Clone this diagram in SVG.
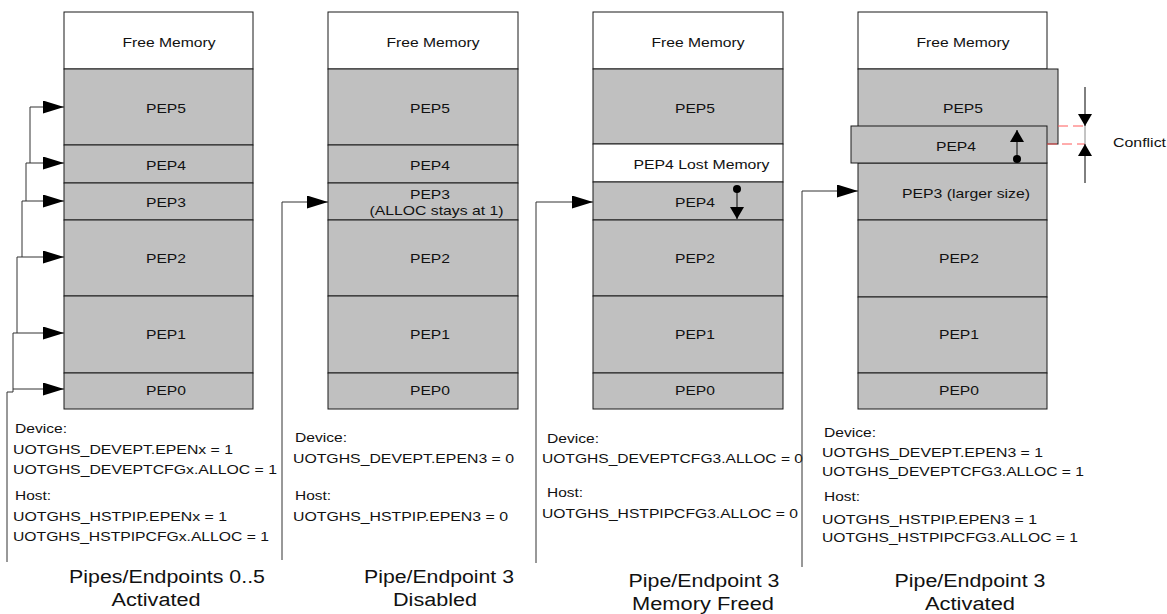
<svg xmlns="http://www.w3.org/2000/svg" width="1167" height="614" viewBox="0 0 1167 614">
<style>
.bg{fill:#ffffff}
.box{fill:#c0c0c0;stroke:#1a1a1a;stroke-width:1}
.free{fill:#ffffff;stroke:#1a1a1a;stroke-width:1}
.lbl{font-family:"Liberation Sans",Arial,sans-serif;font-size:13.5px;fill:#111;text-anchor:middle}
.txt{font-family:"Liberation Sans",Arial,sans-serif;font-size:13.5px;fill:#111}
.title{font-family:"Liberation Sans",Arial,sans-serif;font-size:18px;fill:#111;text-anchor:middle}
.conn{fill:none;stroke:#333;stroke-width:1}
.dash{fill:none;stroke:#ff5a5a;stroke-width:1;stroke-dasharray:10 5}
</style>
<defs>
<marker id="ah" markerUnits="userSpaceOnUse" markerWidth="21" markerHeight="13" refX="21" refY="6.5" orient="auto">
<path d="M0,0 L21,6.5 L0,13 z" fill="#000"/>
</marker>
<marker id="sh" markerUnits="userSpaceOnUse" markerWidth="12" markerHeight="14" refX="12" refY="7" orient="auto">
<path d="M0,0 L12,7 L0,14 z" fill="#000"/>
</marker>
</defs>
<rect class="bg" x="0" y="0" width="1167" height="614"/>

<g id="col1">
<rect class="free" x="64" y="12" width="189" height="57"/>
<rect class="box" x="64" y="69" width="189" height="76"/>
<rect class="box" x="64" y="145" width="189" height="38"/>
<rect class="box" x="64" y="183" width="189" height="37"/>
<rect class="box" x="64" y="220" width="189" height="76"/>
<rect class="box" x="64" y="296" width="189" height="77"/>
<rect class="box" x="64" y="373" width="189" height="36"/>
<text class="lbl" x="169" y="47" textLength="93" lengthAdjust="spacingAndGlyphs">Free Memory</text>
<text class="lbl" x="166" y="113" textLength="40" lengthAdjust="spacingAndGlyphs">PEP5</text>
<text class="lbl" x="166" y="169.5" textLength="40" lengthAdjust="spacingAndGlyphs">PEP4</text>
<text class="lbl" x="166" y="207" textLength="40" lengthAdjust="spacingAndGlyphs">PEP3</text>
<text class="lbl" x="166" y="263" textLength="40" lengthAdjust="spacingAndGlyphs">PEP2</text>
<text class="lbl" x="166" y="339" textLength="40" lengthAdjust="spacingAndGlyphs">PEP1</text>
<text class="lbl" x="166" y="395" textLength="40" lengthAdjust="spacingAndGlyphs">PEP0</text>
<text class="txt" x="15" y="433" textLength="52" lengthAdjust="spacingAndGlyphs">Device:</text>
<text class="txt" x="13" y="454" textLength="220" lengthAdjust="spacingAndGlyphs">UOTGHS_DEVEPT.EPENx = 1</text>
<text class="txt" x="13" y="474" textLength="264" lengthAdjust="spacingAndGlyphs">UOTGHS_DEVEPTCFGx.ALLOC = 1</text>
<text class="txt" x="15" y="500" textLength="36" lengthAdjust="spacingAndGlyphs">Host:</text>
<text class="txt" x="13" y="521" textLength="214" lengthAdjust="spacingAndGlyphs">UOTGHS_HSTPIP.EPENx = 1</text>
<text class="txt" x="13" y="541" textLength="256" lengthAdjust="spacingAndGlyphs">UOTGHS_HSTPIPCFGx.ALLOC = 1</text>
<text class="title" x="167" y="583" textLength="196" lengthAdjust="spacingAndGlyphs">Pipes/Endpoints 0..5</text>
<text class="title" x="156" y="606" textLength="89" lengthAdjust="spacingAndGlyphs">Activated</text>
</g>

<g id="col2">
<rect class="free" x="328" y="12" width="190" height="57"/>
<rect class="box" x="328" y="69" width="190" height="76"/>
<rect class="box" x="328" y="145" width="190" height="38"/>
<rect class="box" x="328" y="183" width="190" height="37"/>
<rect class="box" x="328" y="220" width="190" height="76"/>
<rect class="box" x="328" y="296" width="190" height="77"/>
<rect class="box" x="328" y="373" width="190" height="36"/>
<text class="lbl" x="433" y="47" textLength="93" lengthAdjust="spacingAndGlyphs">Free Memory</text>
<text class="lbl" x="430" y="113" textLength="40" lengthAdjust="spacingAndGlyphs">PEP5</text>
<text class="lbl" x="430" y="169.5" textLength="40" lengthAdjust="spacingAndGlyphs">PEP4</text>
<text class="lbl" x="430" y="199" textLength="40" lengthAdjust="spacingAndGlyphs">PEP3</text>
<text class="lbl" x="436.5" y="215" textLength="134" lengthAdjust="spacingAndGlyphs">(ALLOC stays at 1)</text>
<text class="lbl" x="430" y="263" textLength="40" lengthAdjust="spacingAndGlyphs">PEP2</text>
<text class="lbl" x="430" y="339" textLength="40" lengthAdjust="spacingAndGlyphs">PEP1</text>
<text class="lbl" x="430" y="395" textLength="40" lengthAdjust="spacingAndGlyphs">PEP0</text>
<text class="txt" x="295" y="442" textLength="52" lengthAdjust="spacingAndGlyphs">Device:</text>
<text class="txt" x="293" y="463" textLength="221" lengthAdjust="spacingAndGlyphs">UOTGHS_DEVEPT.EPEN3 = 0</text>
<text class="txt" x="295" y="500" textLength="36" lengthAdjust="spacingAndGlyphs">Host:</text>
<text class="txt" x="293" y="521" textLength="215" lengthAdjust="spacingAndGlyphs">UOTGHS_HSTPIP.EPEN3 = 0</text>
<text class="title" x="439" y="583" textLength="150" lengthAdjust="spacingAndGlyphs">Pipe/Endpoint 3</text>
<text class="title" x="435" y="606" textLength="84" lengthAdjust="spacingAndGlyphs">Disabled</text>
</g>

<g id="col3">
<rect class="free" x="593" y="12" width="190" height="57"/>
<rect class="box" x="593" y="69" width="190" height="75"/>
<rect class="free" x="593" y="144" width="190" height="38"/>
<rect class="box" x="593" y="182" width="190" height="38"/>
<rect class="box" x="593" y="220" width="190" height="76"/>
<rect class="box" x="593" y="296" width="190" height="77"/>
<rect class="box" x="593" y="373" width="190" height="36"/>
<text class="lbl" x="698" y="47" textLength="93" lengthAdjust="spacingAndGlyphs">Free Memory</text>
<text class="lbl" x="695" y="113" textLength="40" lengthAdjust="spacingAndGlyphs">PEP5</text>
<text class="lbl" x="701.5" y="169" textLength="136" lengthAdjust="spacingAndGlyphs">PEP4 Lost Memory</text>
<text class="lbl" x="695" y="207" textLength="40" lengthAdjust="spacingAndGlyphs">PEP4</text>
<text class="lbl" x="695" y="263" textLength="40" lengthAdjust="spacingAndGlyphs">PEP2</text>
<text class="lbl" x="695" y="339" textLength="40" lengthAdjust="spacingAndGlyphs">PEP1</text>
<text class="lbl" x="695" y="395" textLength="40" lengthAdjust="spacingAndGlyphs">PEP0</text>
<circle cx="737" cy="189" r="4" fill="#000"/>
<line x1="737" y1="189" x2="737" y2="219" stroke="#000" stroke-width="1" marker-end="url(#sh)"/>
<text class="txt" x="547" y="443" textLength="52" lengthAdjust="spacingAndGlyphs">Device:</text>
<text class="txt" x="542" y="463" textLength="261" lengthAdjust="spacingAndGlyphs">UOTGHS_DEVEPTCFG3.ALLOC = 0</text>
<text class="txt" x="547" y="497" textLength="36" lengthAdjust="spacingAndGlyphs">Host:</text>
<text class="txt" x="542" y="518" textLength="256" lengthAdjust="spacingAndGlyphs">UOTGHS_HSTPIPCFG3.ALLOC = 0</text>
<text class="title" x="704" y="587" textLength="151" lengthAdjust="spacingAndGlyphs">Pipe/Endpoint 3</text>
<text class="title" x="703" y="610" textLength="142" lengthAdjust="spacingAndGlyphs">Memory Freed</text>
</g>

<g id="col4">
<rect class="free" x="858" y="12" width="189" height="57"/>
<rect class="box" x="858" y="69" width="200" height="75"/>
<rect class="box" x="858" y="163" width="189" height="57"/>
<rect class="box" x="858" y="220" width="189" height="77"/>
<rect class="box" x="858" y="297" width="189" height="76"/>
<rect class="box" x="858" y="373" width="189" height="36"/>
<rect class="box" x="851" y="126" width="196" height="37"/>
<text class="lbl" x="963" y="47" textLength="93" lengthAdjust="spacingAndGlyphs">Free Memory</text>
<text class="lbl" x="963" y="113" textLength="40" lengthAdjust="spacingAndGlyphs">PEP5</text>
<text class="lbl" x="956" y="151" textLength="40" lengthAdjust="spacingAndGlyphs">PEP4</text>
<text class="lbl" x="966" y="198" textLength="128" lengthAdjust="spacingAndGlyphs">PEP3 (larger size)</text>
<text class="lbl" x="959" y="263" textLength="40" lengthAdjust="spacingAndGlyphs">PEP2</text>
<text class="lbl" x="959" y="339" textLength="40" lengthAdjust="spacingAndGlyphs">PEP1</text>
<text class="lbl" x="959" y="395" textLength="40" lengthAdjust="spacingAndGlyphs">PEP0</text>
<circle cx="1017" cy="159" r="4" fill="#000"/>
<line x1="1017" y1="159" x2="1017" y2="130" stroke="#000" stroke-width="1" marker-end="url(#sh)"/>
<text class="txt" x="824" y="437" textLength="52" lengthAdjust="spacingAndGlyphs">Device:</text>
<text class="txt" x="822" y="457" textLength="221" lengthAdjust="spacingAndGlyphs">UOTGHS_DEVEPT.EPEN3 = 1</text>
<text class="txt" x="822" y="476" textLength="262" lengthAdjust="spacingAndGlyphs">UOTGHS_DEVEPTCFG3.ALLOC = 1</text>
<text class="txt" x="824" y="501" textLength="36" lengthAdjust="spacingAndGlyphs">Host:</text>
<text class="txt" x="822" y="524" textLength="215" lengthAdjust="spacingAndGlyphs">UOTGHS_HSTPIP.EPEN3 = 1</text>
<text class="txt" x="822" y="542" textLength="256" lengthAdjust="spacingAndGlyphs">UOTGHS_HSTPIPCFG3.ALLOC = 1</text>
<text class="title" x="970" y="587" textLength="151" lengthAdjust="spacingAndGlyphs">Pipe/Endpoint 3</text>
<text class="title" x="970" y="610" textLength="90" lengthAdjust="spacingAndGlyphs">Activated</text>
</g>

<g id="conflict">
<line class="dash" x1="1058" y1="126" x2="1085" y2="126"/>
<line class="dash" x1="1047" y1="144" x2="1085" y2="144"/>
<line x1="1085" y1="126" x2="1085" y2="144" stroke="#888" stroke-width="1"/>
<line x1="1085" y1="87" x2="1085" y2="126" stroke="#000" stroke-width="1" marker-end="url(#sh)"/>
<line x1="1085" y1="183" x2="1085" y2="144" stroke="#000" stroke-width="1" marker-end="url(#sh)"/>
<text class="txt" x="1113" y="147" textLength="53" lengthAdjust="spacingAndGlyphs">Conflict</text>
</g>

<g id="connectors">
<path class="conn" d="M30,163 V107 H64" marker-end="url(#ah)"/>
<path class="conn" d="M26,201 V163 H64" marker-end="url(#ah)"/>
<path class="conn" d="M22,257 V201 H64" marker-end="url(#ah)"/>
<path class="conn" d="M17,333 V257 H64" marker-end="url(#ah)"/>
<path class="conn" d="M13,389 V333 H64" marker-end="url(#ah)"/>
<path class="conn" d="M7,562 V392 H13 V389 H64" marker-end="url(#ah)"/>
<path class="conn" d="M282,560 V202 H328" marker-end="url(#ah)"/>
<path class="conn" d="M536,563 V202 H593" marker-end="url(#ah)"/>
<path class="conn" d="M802,567 V191 H858" marker-end="url(#ah)"/>
</g>
</svg>
